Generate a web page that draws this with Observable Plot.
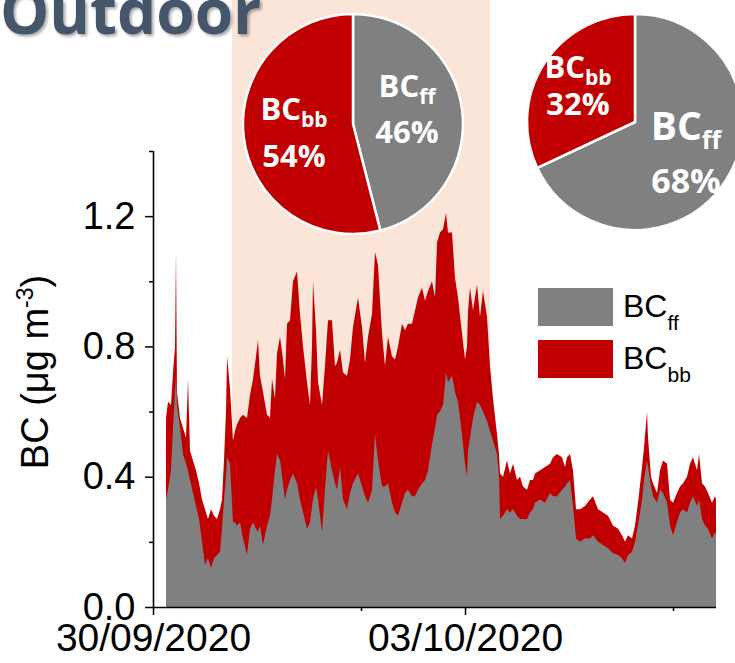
<!DOCTYPE html>
<html><head><meta charset="utf-8">
<script src="https://cdn.jsdelivr.net/npm/d3@7"></script>
<script src="https://cdn.jsdelivr.net/npm/@observablehq/plot@0.6"></script>
<style>body{margin:0;background:#fff}</style>
</head><body><div id="chart"></div>
<script>
// ---- data ----
const startDate = Date.UTC(2020, 8, 30); // 30/09/2020 00:00 UTC
const hours = [3.00,3.46,4.15,4.62,5.08,5.31,5.54,6.23,6.92,7.62,8.08,8.54,9.23,9.92,10.62,11.31,12.00,12.69,13.38,14.08,14.77,15.46,15.92,16.38,16.85,17.08,17.77,18.46,18.92,19.38,20.08,20.77,21.69,22.38,23.08,23.77,24.23,24.69,25.38,26.31,27.00,27.46,28.15,28.62,29.31,30.00,30.46,30.92,31.62,32.31,33.23,33.92,34.62,35.54,36.23,36.69,36.92,37.62,38.08,39.00,39.69,40.38,41.31,42.00,42.46,43.15,43.85,44.77,45.46,46.15,47.31,48.23,48.92,49.62,50.54,51.23,51.92,52.85,53.54,54.23,55.15,55.85,56.54,57.46,58.15,58.85,59.77,60.46,61.15,62.08,62.77,63.46,64.38,65.08,65.54,66.23,66.92,67.62,68.08,69.00,69.69,70.38,71.31,72.00,72.46,72.69,73.15,73.85,74.77,75.46,76.15,77.08,77.77,78.46,79.38,79.85,80.08,80.77,81.69,82.38,83.08,84.00,84.69,85.38,86.31,87.00,87.69,88.15,89.31,90.46,91.62,92.31,93.23,94.38,95.08,95.54,96.23,96.92,97.62,98.54,99.69,100.85,101.54,102.69,103.85,105.00,106.15,107.31,108.23,108.92,109.62,110.54,111.23,111.92,112.85,113.31,114.00,114.23,114.92,115.38,116.31,117.00,117.69,118.62,119.31,120.00,120.92,121.62,122.31,123.23,123.92,124.62,125.54,126.00,126.69,127.38,128.08,129.00,129.69,129.92];
const totalBC = [.58,.63,.62,.72,.80,1.09,.66,.58,.55,.52,.70,.48,.45,.42,.38,.33,.30,.27,.30,.28,.27,.30,.33,.45,.60,.77,.67,.51,.54,.56,.58,.59,.58,.65,.70,.77,.82,.71,.66,.59,.58,.70,.64,.78,.83,.76,.70,.87,.88,1.00,1.03,.90,.80,.69,.62,.80,1.00,.85,.69,.62,.74,.88,.88,.74,.75,.79,.72,.71,.76,.86,.95,.86,.75,.83,.90,1.09,1.05,.84,.74,.83,.77,.76,.80,.87,.85,.87,.87,.91,.95,.98,.94,.97,1.00,.95,1.12,1.15,1.16,1.21,1.15,1.15,1.01,.95,.84,.76,.80,.91,.98,.91,.99,.89,.97,.89,.74,.64,.53,.47,.41,.40,.45,.41,.44,.39,.40,.37,.36,.39,.39,.41,.42,.43,.44,.46,.47,.46,.43,.46,.47,.42,.30,.30,.31,.33,.34,.30,.29,.28,.25,.24,.22,.20,.22,.21,.25,.32,.43,.49,.60,.52,.40,.38,.35,.42,.45,.44,.33,.32,.35,.37,.38,.40,.44,.46,.42,.47,.38,.37,.35,.32,.34,.33];
const ffBC = [.33,.36,.42,.55,.66,.71,.62,.55,.47,.44,.42,.39,.35,.31,.27,.20,.13,.15,.12,.15,.16,.17,.24,.33,.40,.46,.44,.26,.26,.25,.26,.21,.16,.24,.26,.24,.23,.25,.19,.25,.28,.33,.42,.47,.45,.38,.33,.36,.39,.41,.38,.33,.29,.24,.26,.31,.33,.37,.33,.23,.36,.48,.42,.38,.36,.43,.33,.30,.35,.38,.41,.37,.34,.32,.36,.53,.45,.37,.37,.38,.32,.29,.28,.32,.35,.36,.34,.34,.36,.38,.39,.42,.50,.55,.59,.60,.62,.72,.69,.71,.66,.63,.53,.44,.40,.48,.52,.58,.63,.62,.60,.57,.54,.51,.47,.40,.27,.28,.30,.29,.30,.28,.27,.27,.27,.29,.30,.32,.33,.32,.35,.34,.34,.36,.37,.38,.39,.31,.21,.20,.21,.21,.22,.20,.19,.18,.165,.16,.15,.135,.16,.17,.20,.25,.33,.39,.45,.43,.37,.34,.32,.36,.35,.32,.25,.22,.26,.29,.30,.29,.32,.34,.31,.33,.27,.25,.24,.21,.23,.22];
const domainHours = [0, 129.92];
const majorTickDates = ["2020-09-30", "2020-10-03"];
const minorTickDates = ["2020-10-02", "2020-10-05"];
const yMajorTicks = [0, 0.4, 0.8, 1.2];
const yMinorTicks = [0.2, 0.6, 1.0, 1.4];
const shadeHours = [18.25, 77.75];
const shadeTop = 1.87;
const pieShaded = [{name: "ff", value: 46}, {name: "bb", value: 54}];
const pieOther = [{name: "ff", value: 68}, {name: "bb", value: 32}];
const titleText = "Outdoor";

// ---- derived tables ----
const toDate = h => new Date(startDate + h * 3600e3);
const rows = hours.map((h, i) => ({date: toDate(h), total: totalBC[i], ff: ffBC[i]}));
const colors = {ff: "#808080", bb: "#C00000"};

const plot = Plot.plot({
  width: 735, height: 663,
  marginLeft: 153, marginRight: 19, marginTop: 151, marginBottom: 56,
  style: {fontFamily: "'Liberation Sans', Arial, sans-serif", color: "#000", background: "#fff", overflow: "visible"},
  x: {type: "utc", domain: domainHours.map(toDate)},
  y: {domain: [0, 1.4]},
  marks: [
    Plot.rect([{x1: toDate(shadeHours[0]), x2: toDate(shadeHours[1])}], {x1: "x1", x2: "x2", y1: 0, y2: shadeTop, fill: "#FBE4D8"}),
    Plot.areaY(rows, {x: "date", y: "total", fill: colors.bb}),
    Plot.areaY(rows, {x: "date", y: "ff", fill: colors.ff}),
    Plot.ruleX([toDate(domainHours[0])], {stroke: "#000", strokeWidth: 1.6}),
    Plot.ruleY([0], {stroke: "#000", strokeWidth: 1.6}),
    Plot.axisY({ticks: yMajorTicks, tickSize: 8, tickPadding: 10, tickFormat: d3.format(".1f"), fontSize: 38, label: null, strokeWidth: 1.5}),
    Plot.axisY({ticks: yMinorTicks, tickSize: 4, tickFormat: () => "", label: null, strokeWidth: 1.5}),
    Plot.axisX({ticks: majorTickDates.map(d => new Date(d)), tickSize: 8, tickPadding: 8, tickFormat: d3.utcFormat("%d/%m/%Y"), fontSize: 39, label: null, strokeWidth: 1.5}),
    Plot.axisX({ticks: minorTickDates.map(d => new Date(d)), tickSize: 4, tickFormat: () => "", label: null, strokeWidth: 1.5})
  ]
});

const svg = d3.select(plot);
const defs = svg.append("defs");
defs.append("filter").attr("id", "shadow").attr("x", "-10%").attr("y", "-10%").attr("width", "130%").attr("height", "140%")
  .append("feDropShadow").attr("dx", 2).attr("dy", 2).attr("stdDeviation", 1.5)
  .attr("flood-color", "#000").attr("flood-opacity", 0.35);

// title
svg.append("text").attr("x", 0).attr("y", 34).attr("text-anchor", "start")
  .attr("font-family", "'Open Sans', sans-serif").attr("font-weight", 700).attr("font-size", 62)
  .attr("fill", "#44546A").attr("filter", "url(#shadow)").text(titleText);

// y axis label with superscript
const yl = svg.append("text").attr("transform", "translate(48,372) rotate(-90)")
  .attr("text-anchor", "middle").attr("font-size", 38).attr("fill", "#000");
yl.append("tspan").text("BC (μg m");
yl.append("tspan").attr("font-size", 23).attr("dy", -15).text("-3");
yl.append("tspan").attr("dy", 15).text(")");

// pies
function drawPie(data, cx, cy, r) {
  const arcs = d3.pie().sort(null).value(d => d.value)(data);
  const arc = d3.arc().innerRadius(0).outerRadius(r);
  const g = svg.append("g").attr("transform", `translate(${cx},${cy})`);
  g.selectAll("path").data(arcs).join("path")
    .attr("d", arc).attr("fill", d => colors[d.data.name])
    .attr("stroke", "#fff").attr("stroke-width", 2.5).attr("stroke-linejoin", "round");
}
function pieLabel(x, y, name, pct, size, subSize, gap, pctSize) {
  const t = svg.append("text").attr("x", x).attr("y", y).attr("text-anchor", "middle")
    .attr("font-family", "'Open Sans', sans-serif").attr("font-weight", 700)
    .attr("font-size", size).attr("fill", "#fff");
  t.append("tspan").text("BC");
  t.append("tspan").attr("font-size", subSize).attr("dy", subSize * 0.35).text(name);
  svg.append("text").attr("x", x).attr("y", y + gap).attr("text-anchor", "middle")
    .attr("font-family", "'Open Sans', sans-serif").attr("font-weight", 700)
    .attr("font-size", pctSize).attr("fill", "#fff").text(pct + "%");
}
drawPie(pieShaded, 353, 124, 110);
drawPie(pieOther, 635, 122, 108);
pieLabel(294, 120, "bb", pieShaded[1].value, 31, 21, 47, 31);
pieLabel(407, 97, "ff", pieShaded[0].value, 31, 21, 46, 31);
pieLabel(578, 78, "bb", pieOther[1].value, 31, 21, 37, 31);
pieLabel(686, 140, "ff", pieOther[0].value, 39, 25, 53, 34);

// legend
const legend = [{name: "ff", y: 288}, {name: "bb", y: 340}];
legend.forEach(d => {
  svg.append("rect").attr("x", 538).attr("y", d.y).attr("width", 75).attr("height", 38).attr("fill", colors[d.name]);
  const t = svg.append("text").attr("x", 623).attr("y", d.y + 29).attr("text-anchor", "start").attr("font-size", 32).attr("fill", "#000");
  t.append("tspan").text("BC");
  t.append("tspan").attr("font-size", 21).attr("dy", 13).text(d.name);
});

document.getElementById("chart").appendChild(plot);
</script>
</body></html>
